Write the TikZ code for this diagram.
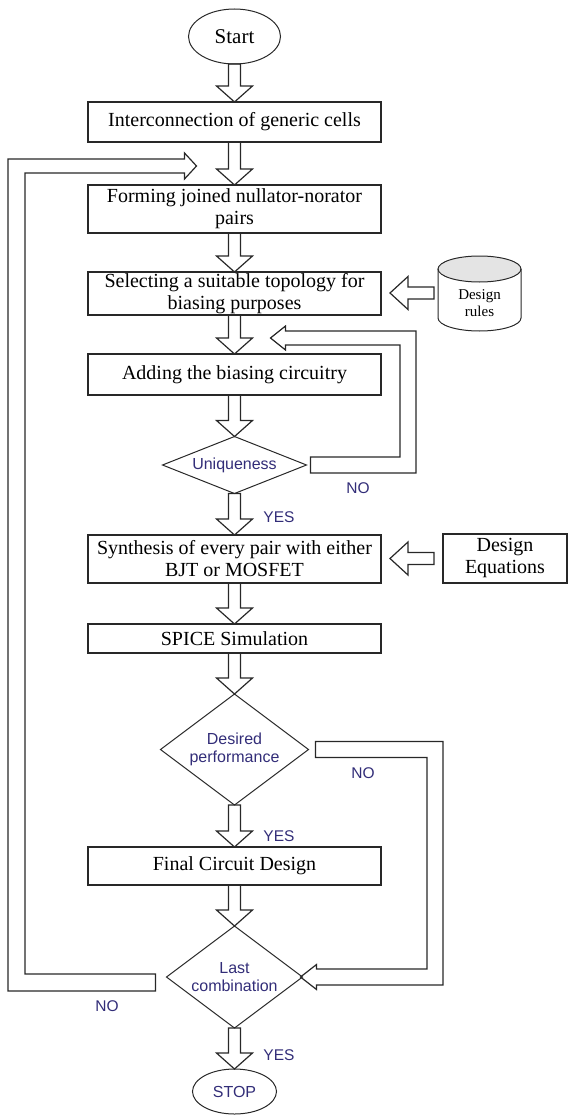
\documentclass[tikz,border=0pt]{standalone}
\usepackage{fontspec}
\setmainfont{Liberation Serif}
\setsansfont{Liberation Sans}
\usetikzlibrary{shapes.geometric,calc}
\definecolor{linegray}{RGB}{40,40,40}
\definecolor{labelblue}{RGB}{50,45,120}
\definecolor{cylgray}{RGB}{228,228,228}

\newcommand{\vblock}[2]{\draw[blockarrow] let \p1=(#1), \p2=(#2) in (\x1-6pt,\y1) -- (\x1-6pt,\y2+16pt) -- (\x1-18pt,\y2+16pt) -- (\x2,\y2) -- (\x1+18pt,\y2+16pt) -- (\x1+6pt,\y2+16pt) -- (\x1+6pt,\y1) -- cycle;}
\newcommand{\hblock}[2]{\draw[blockarrow] let \p1=(#1), \p2=(#2) in (\x1,\y1+6pt) -- (\x2+18pt,\y1+6pt) -- (\x2+18pt,\y1+16.5pt) -- (\x2,\y1) -- (\x2+18pt,\y1-16.5pt) -- (\x2+18pt,\y1-6pt) -- (\x1,\y1-6pt) -- cycle;}

\begin{document}
\begin{tikzpicture}[x=1pt,y=-1pt,
	every node/.style={outer sep=0pt},
	stepbox/.style={draw=linegray, line width=1.3pt, minimum width=293pt, inner sep=0pt, align=center, font=\fontsize{20}{22}\selectfont},
	decision/.style={diamond, draw=linegray, line width=1pt, inner sep=0pt, align=center, text=labelblue, font=\sffamily\fontsize{16}{18}\selectfont},
	terminal/.style={ellipse, draw=linegray, line width=1pt, inner sep=0pt},
	answer/.style={text=labelblue, font=\sffamily\fontsize{15.5}{18}\selectfont},
	blockarrow/.style={draw=linegray, line width=1.2pt}]
	\useasboundingbox (0,0) rectangle (568,1115);
	\node[terminal, minimum width=92pt, minimum height=55pt, font=\fontsize{21}{24}\selectfont] (start) at (234.5,36.5) {Start};
	\node[stepbox, minimum height=40pt] (inter) at (234.5,122) {Interconnection of generic cells};
	\node[stepbox, minimum height=48pt] (form) at (234.5,209) {Forming joined nullator-norator\\pairs};
	\node[stepbox, minimum height=43pt] (select) at (234.5,293.5) {Selecting a suitable topology for\\biasing purposes};
	\node[stepbox, minimum height=41pt] (adding) at (234.5,374.5) {Adding the biasing circuitry};
	\node[decision, aspect=2.53, minimum width=144pt, minimum height=57pt] (uniq) at (234.5,465) {Uniqueness};
	\node[stepbox, minimum height=48pt] (synth) at (234.5,559) {Synthesis of every pair with either\\BJT or MOSFET};
	\node[stepbox, minimum height=29pt] (spice) at (234.5,638.5) {SPICE Simulation};
	\node[decision, aspect=1.33, minimum width=148pt, minimum height=111pt] (desired) at (234.5,749.5) {Desired\\performance};
	\node[stepbox, minimum height=38pt] (final) at (234.5,866) {Final Circuit Design};
	\node[decision, aspect=1.33, minimum width=136pt, minimum height=102pt] (last) at (234.5,977) {Last\\combination};
	\node[terminal, minimum width=84pt, minimum height=45pt, text=labelblue, font=\sffamily\fontsize{16}{18}\selectfont] (stop) at (234.5,1091.5) {STOP};

	\filldraw[draw=linegray, line width=1pt, fill=cylgray] (479.5,269) ellipse [x radius=41.5pt, y radius=13pt];
	\draw[linegray, line width=1pt] (438,269) -- (438,318) arc[start angle=180, end angle=360, x radius=41.5pt, y radius=13pt] -- (521,269);
	\node[align=center, font=\fontsize{15}{17}\selectfont] (rules) at (479.5,303.5) {Design\\rules};
	\coordinate (rulesside) at (438,293);
	\node[draw=linegray, line width=1.3pt, minimum width=124pt, minimum height=49pt, inner sep=0pt, align=center, font=\fontsize{20}{22}\selectfont] (eqs) at (505,558.5) {Design\\Equations};

	\vblock{start.south}{inter.north}
	\vblock{inter.south}{form.north}
	\vblock{form.south}{select.north}
	\vblock{select.south}{adding.north}
	\vblock{adding.south}{uniq.north}
	\vblock{uniq.south}{synth.north}
	\vblock{synth.south}{spice.north}
	\vblock{spice.south}{desired.north}
	\vblock{desired.south}{final.north}
	\vblock{final.south}{last.north}
	\vblock{last.south}{stop.north}
	\hblock{[xshift=-4pt]rulesside}{[xshift=9pt]select.east}
	\hblock{[xshift=-9pt]eqs.west}{[xshift=9pt]synth.east}

	\draw[blockarrow] let \p1=([xshift=4pt]uniq.east), \p2=([xshift=36pt,yshift=16pt]adding.north) in (\x1,\y1+8pt) -- (400pt,\y1+8pt) -- (400pt,\y2-7pt) -- (\x2+15pt,\y2-7pt) -- (\x2+15pt,\y2-12pt) -- (\x2,\y2) -- (\x2+15pt,\y2+12pt) -- (\x2+15pt,\y2+7pt) -- (416pt,\y2+7pt) -- (416pt,\y1-8pt) -- (\x1,\y1-8pt) -- cycle;
	\draw[blockarrow] let \p1=([xshift=7pt]desired.east), \p2=([xshift=-2pt]last.east) in (\x1,\y1+8pt) -- (443pt,\y1+8pt) -- (443pt,\y2-8pt) -- (\x2+16pt,\y2-8pt) -- (\x2+16pt,\y2-12.5pt) -- (\x2,\y2) -- (\x2+16pt,\y2+12.5pt) -- (\x2+16pt,\y2+8pt) -- (427pt,\y2+8pt) -- (427pt,\y1-8pt) -- (\x1,\y1-8pt) -- cycle;
	\draw[blockarrow] let \p1=([xshift=-11pt,yshift=-5.5pt]last.west), \p2=([xshift=-38pt,yshift=19pt]form.north) in (\x1,\y1+8.5pt) -- (25pt,\y1+8.5pt) -- (25pt,\y2-7pt) -- (\x2-12pt,\y2-7pt) -- (\x2-12pt,\y2-13pt) -- (\x2,\y2) -- (\x2-12pt,\y2+13pt) -- (\x2-12pt,\y2+7pt) -- (8pt,\y2+7pt) -- (8pt,\y1-8.5pt) -- (\x1,\y1-8.5pt) -- cycle;

	\node[answer] (yes1) at (279,517) {YES};
	\node[answer] (no1) at (358,488) {NO};
	\node[answer] (no2) at (363,773) {NO};
	\node[answer] (yes2) at (279,836) {YES};
	\node[answer] (no3) at (107,1006) {NO};
	\node[answer] (yes3) at (279,1055) {YES};
\end{tikzpicture}
\end{document}
